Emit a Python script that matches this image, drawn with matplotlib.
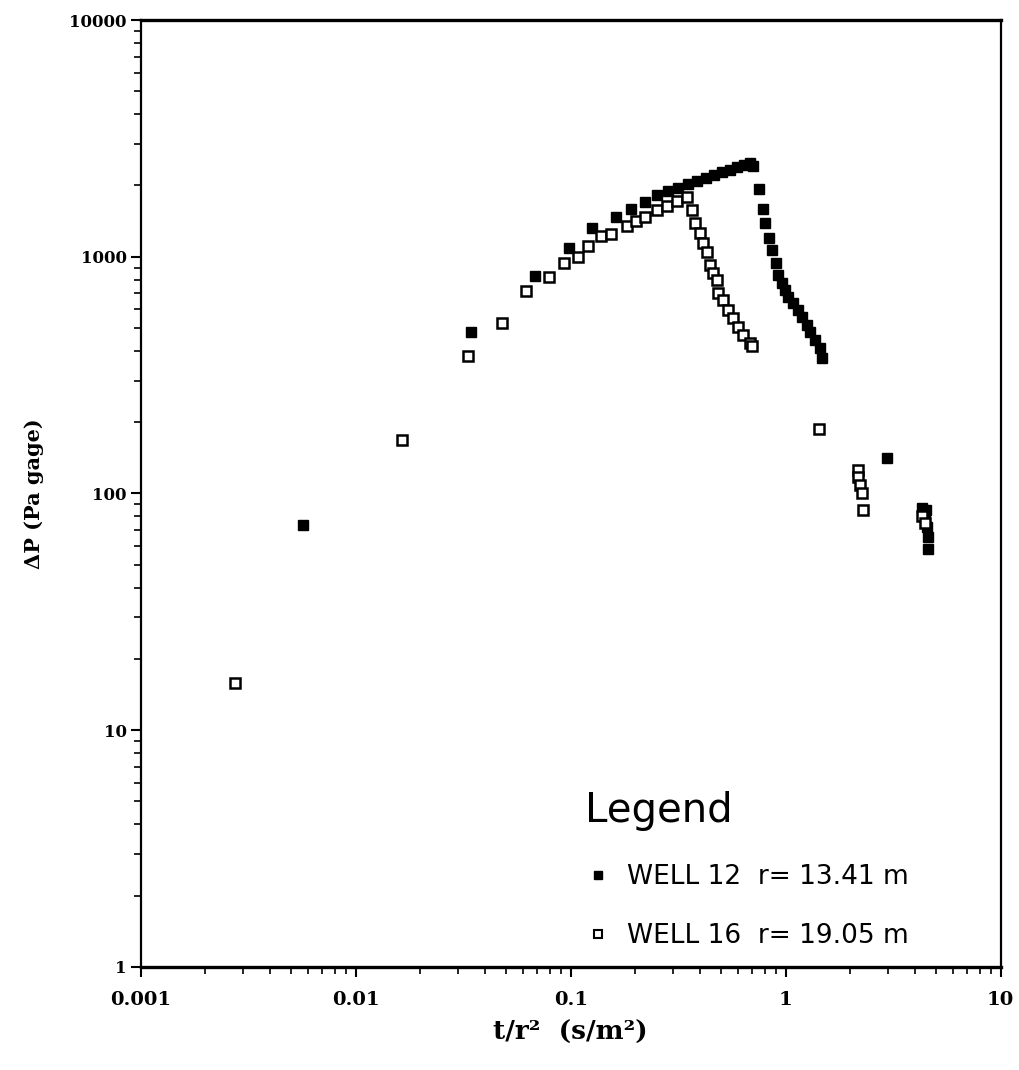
import matplotlib
matplotlib.use("Agg")
import matplotlib.pyplot as plt
from matplotlib.lines import Line2D

# WELL 12 (filled squares), r = 13.41 m
w12_x = [0.00566, 0.0343, 0.0681, 0.098, 0.125, 0.162, 0.190, 0.221,
         0.251, 0.283, 0.315, 0.350, 0.385, 0.425, 0.463, 0.504, 0.549,
         0.592, 0.638, 0.681, 0.703,
         0.748, 0.782, 0.799, 0.833, 0.861, 0.898, 0.918, 0.958, 0.989,
         1.021, 1.078, 1.137, 1.187, 1.253, 1.294, 1.365, 1.439, 1.470,
         2.95, 4.29, 4.50, 4.43, 4.55, 4.57, 4.57]
w12_y = [73.6, 481, 829, 1089, 1322, 1472, 1591, 1704,
         1823, 1896, 1951, 2029, 2089, 2153, 2216, 2282, 2325,
         2395, 2442, 2489, 2420,
         1933, 1591, 1389, 1200, 1069, 941, 838, 775, 724,
         676, 638, 596, 557, 515, 481, 445, 412, 373,
         141, 86.9, 85.5, 78.8, 72.2, 65.5, 58.0]

# WELL 16 (open squares), r = 19.05 m
w16_x = [0.00274, 0.0165, 0.0332, 0.0478, 0.0618, 0.0791, 0.0928, 0.108,
         0.121, 0.139, 0.154, 0.182, 0.201, 0.221, 0.251, 0.280, 0.311,
         0.347,
         0.366, 0.377, 0.398, 0.411, 0.429, 0.443, 0.457, 0.478, 0.483,
         0.509, 0.537, 0.566, 0.598, 0.631, 0.680, 0.700,
         1.423, 2.16, 2.17, 2.21, 2.26, 2.30, 4.30, 4.45]
w16_y = [15.8, 168, 381, 525, 717, 820, 941, 997,
         1110, 1224, 1247, 1349, 1416, 1472, 1575, 1638, 1719,
         1789,
         1575, 1389, 1259, 1143, 1047, 923, 853, 797, 703,
         657, 596, 551, 505, 467, 432, 418,
         187, 126, 117, 109, 100.5, 85.1, 80, 75]

x_ticks = [0.001, 0.01, 0.1, 1, 10]
x_labels = ["0.001", "0.01", "0.1", "1", "10"]
y_ticks = [1, 10, 100, 1000, 10000]
y_labels = ["1", "10", "100", "1000", "10000"]

serif = "DejaVu Serif"

fig = plt.figure(figsize=(10.2, 10.7), dpi=100)
ax = fig.add_axes([0.138, 0.0963, 0.843, 0.885])

ax.plot(w12_x, w12_y, linestyle="none", marker="s", markersize=7.5,
        markerfacecolor="black", markeredgecolor="black", markeredgewidth=1.0)
ax.plot(w16_x, w16_y, linestyle="none", marker="s", markersize=7.5,
        markerfacecolor="white", markeredgecolor="black", markeredgewidth=1.8)

ax.set_xscale("log")
ax.set_yscale("log")
ax.set_xlim(0.001, 10)
ax.set_ylim(1, 10000)

ax.set_xticks(x_ticks)
ax.set_xticklabels(x_labels)
ax.set_yticks(y_ticks)
ax.set_yticklabels(y_labels)

for lab in ax.get_xticklabels():
    lab.set_fontfamily(serif)
    lab.set_fontweight("bold")
    lab.set_fontsize(14)
for lab in ax.get_yticklabels():
    lab.set_fontfamily(serif)
    lab.set_fontweight("bold")
    lab.set_fontsize(12)

ax.tick_params(axis="both", which="major", direction="out", length=7, width=1.5, color="black")
ax.tick_params(axis="both", which="minor", direction="out", length=5, width=1.2, color="black")
ax.tick_params(axis="x", which="major", pad=10)
ax.tick_params(axis="y", which="major", pad=3)

for side in ["left", "bottom", "top", "right"]:
    ax.spines[side].set_linewidth(1.6)
ax.spines["top"].set_linewidth(2.4)
ax.spines["bottom"].set_linewidth(2.4)

ax.set_xlabel("t/r\u00b2  (s/m\u00b2)", fontfamily=serif, fontweight="bold",
              fontsize=19, labelpad=8)
ax.set_ylabel("\u0394P (Pa gage)", fontfamily=serif, fontweight="bold",
              fontsize=15, labelpad=18)

handles = [
    Line2D([], [], linestyle="none", marker="s", markersize=5.5,
           markerfacecolor="black", markeredgecolor="black"),
    Line2D([], [], linestyle="none", marker="s", markersize=5.5,
           markerfacecolor="white", markeredgecolor="black", markeredgewidth=1.5),
]
leg = ax.legend(handles, ["WELL 12  r= 13.41 m", "WELL 16  r= 19.05 m"],
                title="Legend", loc="lower left", bbox_to_anchor=(0.489, -0.006),
                frameon=False, prop={"family": "DejaVu Sans", "size": 19},
                title_fontproperties={"family": "DejaVu Sans", "size": 29},
                alignment="left", handletextpad=0.6, handlelength=1.0,
                labelspacing=1.25)

fig.savefig("out.png", dpi=100, facecolor="white")
